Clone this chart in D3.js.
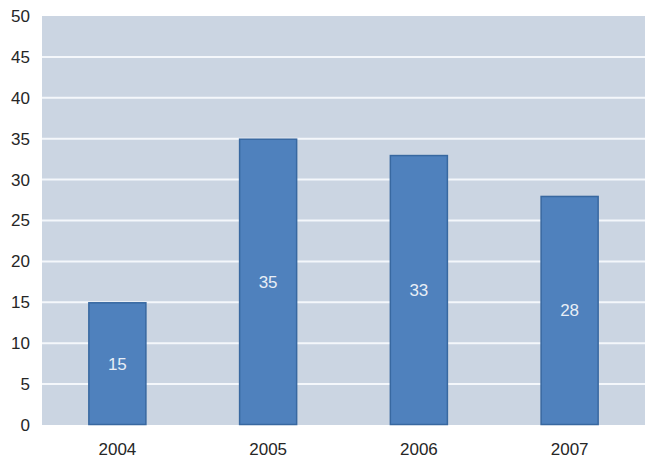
<!DOCTYPE html>
<html><head><meta charset="utf-8">
<script src="https://cdn.jsdelivr.net/npm/d3@7"></script>
<style>html,body{margin:0;padding:0;background:#fff;}svg{display:block;}</style>
</head><body>
<svg id="c" width="651" height="463"></svg>
<script>
const categories = ["2004", "2005", "2006", "2007"];
const values = [15, 35, 33, 28];
const yTicks = [0, 5, 10, 15, 20, 25, 30, 35, 40, 45, 50];

const svg = d3.select("#c");
const m = {left: 42, right: 6, top: 16, bottom: 38};
const W = 651, H = 463;
const FONT = "Liberation Sans, Arial, sans-serif";
const x = d3.scaleBand().domain(categories).range([m.left, W - m.right]).paddingInner(0.615).paddingOuter(0.3075);
const y = d3.scaleLinear().domain([0, 50]).range([H - m.bottom, m.top]);

svg.append("rect").attr("x", m.left).attr("y", m.top)
  .attr("width", W - m.right - m.left).attr("height", H - m.bottom - m.top)
  .attr("fill", "#cbd5e2");

svg.append("g").selectAll("line").data(yTicks.filter(d => d > 0 && d < 50)).join("line")
  .attr("x1", m.left).attr("x2", W - m.right)
  .attr("y1", d => y(d)).attr("y2", d => y(d))
  .attr("stroke", "#f4f7fb").attr("stroke-width", 2);

const yAxis = svg.append("g").attr("transform", `translate(${m.left},0)`)
  .call(d3.axisLeft(y).tickValues(yTicks).tickSize(0).tickPadding(12));
yAxis.select(".domain").remove();
yAxis.selectAll("text").attr("font-family", FONT).attr("font-size", 17).attr("fill", "#262626");

const xAxis = svg.append("g").attr("transform", `translate(0,${H - m.bottom})`)
  .call(d3.axisBottom(x).tickSize(0).tickPadding(18));
xAxis.select(".domain").remove();
xAxis.selectAll("text").attr("font-family", FONT).attr("font-size", 17).attr("fill", "#262626");

svg.append("g").selectAll("rect").data(values).join("rect")
  .attr("x", (d, i) => x(categories[i]) + 0.5)
  .attr("y", d => y(d) + 0.5)
  .attr("width", x.bandwidth() - 1)
  .attr("height", d => y(0) - y(d) - 1)
  .attr("fill", "#4f81bd").attr("stroke", "#3868a0").attr("stroke-width", 1.5);

svg.append("g").selectAll("text").data(values).join("text")
  .attr("x", (d, i) => x(categories[i]) + x.bandwidth() / 2)
  .attr("y", d => (y(d) + y(0)) / 2)
  .attr("dy", "0.35em")
  .attr("text-anchor", "middle")
  .attr("font-family", FONT).attr("font-size", 17)
  .attr("fill", "#e8eef6")
  .text(d => d);
</script>
</body></html>
